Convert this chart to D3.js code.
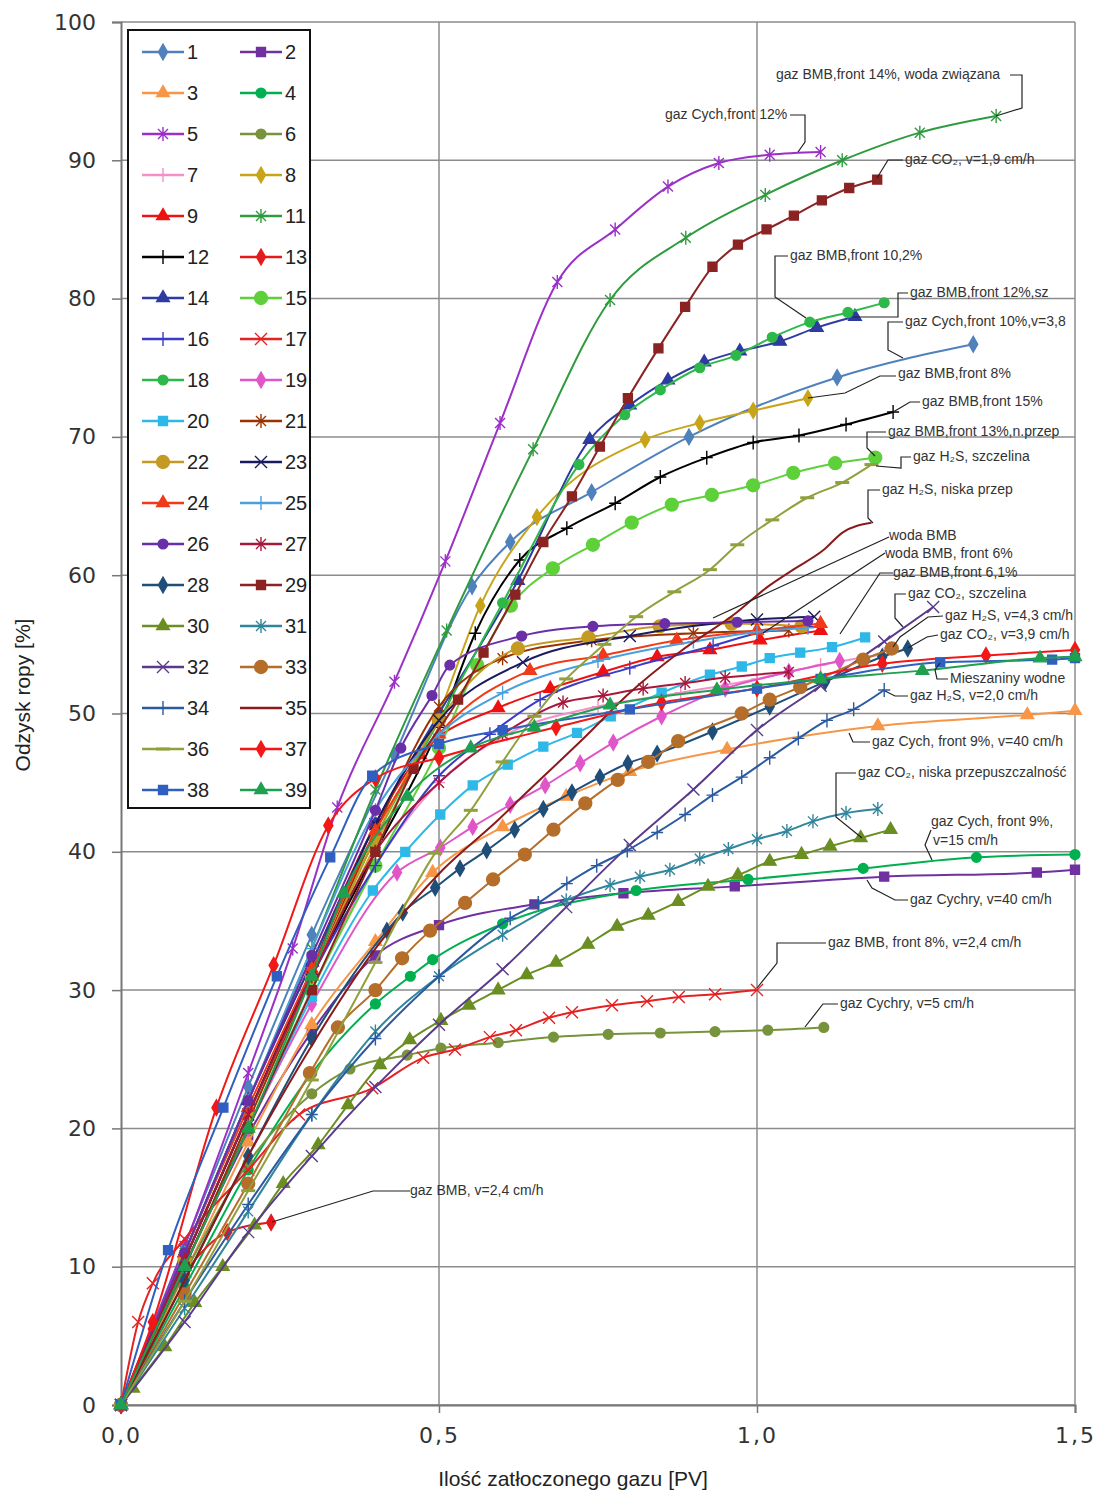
<!DOCTYPE html>
<html lang="pl">
<head>
<meta charset="UTF-8">
<title>Odzysk ropy</title>
<script src="https://d3js.org/d3.v7.min.js"></script>
<style>
  body { margin: 0; background: #fff; }
  svg text { font-family: "Liberation Sans", Arial, sans-serif; }
</style>
</head>
<body>
<script>
// --- data: [PV, recovery %] for every test ---
var s1 = [[0,0],[0.1,11.5],[0.2,23],[0.3,34],[0.43,47],[0.552,59.2],[0.612,62.4],[0.74,66],[0.893,70],[1.126,74.3],[1.34,76.7]];
var s2 = [[0,0],[0.1,10],[0.2,19.5],[0.3,27],[0.4,32.5],[0.5,34.7],[0.65,36.2],[0.79,37],[0.965,37.5],[1.2,38.2],[1.44,38.5],[1.5,38.7]];
var s3 = [[0,0],[0.1,9.5],[0.2,19],[0.3,27.5],[0.4,33.5],[0.49,38.5],[0.6,41.8],[0.7,44],[0.8,45.8],[0.953,47.4],[1.19,49.1],[1.425,49.9],[1.5,50.2]];
var s4 = [[0,0],[0.1,8.5],[0.2,17],[0.3,24],[0.4,29],[0.455,31],[0.49,32.2],[0.6,34.8],[0.81,37.2],[0.986,38],[1.167,38.8],[1.345,39.6],[1.5,39.8]];
var s5 = [[0,0],[0.1,11.5],[0.2,24],[0.27,33],[0.34,43.2],[0.43,52.3],[0.51,61],[0.596,71],[0.686,81.2],[0.777,85],[0.86,88.1],[0.94,89.8],[1.02,90.4],[1.1,90.6]];
var s6 = [[0,0],[0.1,9.5],[0.2,17.5],[0.3,22.5],[0.36,24.3],[0.45,25.3],[0.503,25.8],[0.593,26.2],[0.68,26.6],[0.766,26.8],[0.848,26.9],[0.934,27],[1.017,27.1],[1.105,27.3]];
var s7 = [[0,0],[0.1,10],[0.2,20],[0.3,30],[0.4,39],[0.5,45],[0.607,48.5],[0.75,50.5],[0.88,51.5],[1.0,52.5],[1.1,53.5],[1.2,54.3]];
var s8 = [[0,0],[0.1,10.5],[0.2,21],[0.3,31],[0.4,40.5],[0.5,50],[0.565,57.8],[0.654,64.2],[0.824,69.8],[0.91,71],[0.994,71.9],[1.08,72.8]];
var s9 = [[0,0],[0.1,11],[0.2,22],[0.3,32],[0.4,42],[0.47,47],[0.593,50.4],[0.675,51.8],[0.758,53],[0.843,54.1],[0.926,54.6],[1.005,55.3],[1.1,56]];
var s11 = [[0,0],[0.1,11],[0.2,22],[0.3,33],[0.4,44.5],[0.512,56],[0.648,69.1],[0.769,79.9],[0.888,84.4],[1.013,87.5],[1.134,90],[1.256,92],[1.376,93.2]];
var s12 = [[0,0],[0.1,10.5],[0.2,21],[0.3,31],[0.4,40],[0.5,49],[0.557,55.8],[0.627,61.1],[0.701,63.4],[0.777,65.2],[0.848,67.1],[0.921,68.5],[0.994,69.6],[1.066,70.1],[1.14,70.9],[1.214,71.8]];
var s13 = [[0,0],[0.05,5.5],[0.1,9.5],[0.167,12.5],[0.236,13.2]];
var s14 = [[0,0],[0.1,11],[0.2,22],[0.3,32],[0.4,42],[0.5,50],[0.624,59.6],[0.737,69.8],[0.8,72.3],[0.86,74.1],[0.917,75.4],[0.973,76.2],[1.036,76.9],[1.094,77.9],[1.154,78.7]];
var s15 = [[0,0],[0.1,10],[0.2,20],[0.3,30],[0.4,39],[0.5,47.5],[0.56,53.5],[0.613,57.8],[0.679,60.5],[0.742,62.2],[0.803,63.8],[0.866,65.1],[0.929,65.8],[0.994,66.5],[1.057,67.4],[1.123,68.1],[1.186,68.5]];
var s16 = [[0,0],[0.1,10.5],[0.2,21],[0.3,31],[0.4,39],[0.5,45.5],[0.58,48.5],[0.659,51],[0.8,53.3],[0.931,54.9],[1.0,55.8],[1.08,56.3]];
var s17 = [[0,0],[0.027,6],[0.05,8.8],[0.1,12],[0.2,17],[0.28,21],[0.395,22.9],[0.475,25.1],[0.525,25.7],[0.58,26.6],[0.621,27.1],[0.673,28],[0.709,28.4],[0.772,28.9],[0.827,29.2],[0.877,29.5],[0.934,29.7],[1.0,30]];
var s18 = [[0,0],[0.1,10.5],[0.2,21],[0.3,31],[0.4,41],[0.5,49.5],[0.6,58],[0.72,68],[0.792,71.6],[0.848,73.4],[0.91,75],[0.967,75.9],[1.024,77.2],[1.083,78.3],[1.143,79],[1.2,79.7]];
var s19 = [[0,0],[0.1,10],[0.2,20],[0.3,29],[0.434,38.5],[0.502,40.3],[0.553,41.8],[0.612,43.4],[0.667,44.8],[0.722,46.4],[0.774,47.9],[0.85,49.8],[0.95,51.8],[1.05,53],[1.13,53.8]];
var s20 = [[0,0],[0.1,10],[0.2,20],[0.3,29.5],[0.396,37.2],[0.447,40],[0.502,42.7],[0.553,44.8],[0.608,46.3],[0.664,47.6],[0.717,48.6],[0.77,49.8],[0.85,51.5],[0.926,52.8],[0.976,53.4],[1.02,54],[1.068,54.4],[1.118,54.8],[1.17,55.5]];
var s21 = [[0,0],[0.1,10],[0.2,20.5],[0.3,31],[0.4,41.5],[0.5,50.5],[0.6,54],[0.74,55.3],[0.9,55.8],[1.05,56]];
var s22 = [[0,0],[0.1,10.5],[0.2,21],[0.3,31],[0.4,41],[0.5,49.5],[0.624,54.7],[0.735,55.5],[0.847,56.3],[0.96,56.5],[1.07,56.3]];
var s23 = [[0,0],[0.1,10.5],[0.2,21],[0.3,31.5],[0.4,42],[0.5,49.5],[0.632,53.7],[0.8,55.6],[1.0,56.8],[1.09,57]];
var s24 = [[0,0],[0.1,11],[0.2,21.5],[0.3,31.5],[0.4,41.5],[0.5,48.5],[0.643,53.1],[0.758,54.2],[0.874,55.3],[1.0,56],[1.1,56.5]];
var s25 = [[0,0],[0.1,11],[0.2,22],[0.3,33],[0.4,43],[0.5,48.5],[0.6,51.5],[0.75,53.8],[0.9,55.2],[1.0,55.9],[1.08,56.2]];
var s26 = [[0,0],[0.1,11],[0.2,22],[0.3,32.5],[0.4,43],[0.44,47.5],[0.489,51.3],[0.517,53.5],[0.63,55.6],[0.742,56.3],[0.855,56.5],[0.969,56.6],[1.08,56.7]];
var s27 = [[0,0],[0.1,10.5],[0.2,21],[0.3,31],[0.4,40],[0.5,45],[0.6,48.5],[0.695,50.8],[0.758,51.3],[0.821,51.8],[0.887,52.2],[0.95,52.6],[1.05,53]];
var s28 = [[0,0],[0.1,9],[0.2,18],[0.3,26.5],[0.418,34.3],[0.443,35.6],[0.494,37.4],[0.533,38.8],[0.575,40.1],[0.619,41.6],[0.664,43.1],[0.709,44.3],[0.753,45.4],[0.797,46.4],[0.843,47.1],[0.93,48.7],[1.02,50.5],[1.107,52.3],[1.197,54.1],[1.237,54.7]];
var s29 = [[0,0],[0.1,10],[0.2,20],[0.3,30],[0.4,40],[0.46,46],[0.53,51],[0.57,54.4],[0.62,58.6],[0.664,62.4],[0.709,65.7],[0.753,69.3],[0.797,72.8],[0.845,76.4],[0.887,79.4],[0.93,82.3],[0.97,83.9],[1.015,85],[1.058,86],[1.102,87.1],[1.145,88],[1.189,88.6]];
var s30 = [[0,0],[0.019,1.2],[0.069,4.2],[0.116,7.4],[0.16,10],[0.21,13],[0.255,16],[0.31,18.8],[0.357,21.7],[0.407,24.6],[0.454,26.4],[0.503,27.8],[0.547,28.9],[0.593,30],[0.638,31.1],[0.684,32],[0.734,33.3],[0.78,34.6],[0.829,35.4],[0.876,36.4],[0.923,37.5],[0.97,38.3],[1.02,39.3],[1.07,39.8],[1.115,40.4],[1.163,41],[1.21,41.6]];
var s31 = [[0,0],[0.1,7],[0.2,14],[0.3,21],[0.4,27],[0.5,31],[0.6,34],[0.7,36.5],[0.769,37.6],[0.816,38.2],[0.863,38.7],[0.91,39.5],[0.955,40.2],[1.0,40.9],[1.047,41.5],[1.088,42.2],[1.14,42.8],[1.19,43.1]];
var s32 = [[0,0],[0.1,6],[0.2,12.5],[0.3,18],[0.4,23],[0.5,27.5],[0.6,31.5],[0.7,36],[0.8,40.5],[0.9,44.5],[1.0,48.8],[1.1,52],[1.2,55.2],[1.277,57.7]];
var s33 = [[0,0],[0.1,8],[0.2,16],[0.297,24],[0.341,27.3],[0.4,30],[0.442,32.3],[0.486,34.3],[0.541,36.3],[0.585,38],[0.635,39.8],[0.68,41.6],[0.73,43.5],[0.781,45.2],[0.829,46.5],[0.876,48],[0.976,50],[1.02,51],[1.068,51.9],[1.167,53.9],[1.212,54.7]];
var s34 = [[0,0],[0.1,7.5],[0.2,14.5],[0.3,21],[0.4,26.5],[0.5,31],[0.612,35.2],[0.656,36.3],[0.701,37.7],[0.748,39],[0.796,40.1],[0.843,41.4],[0.887,42.7],[0.93,44.1],[0.976,45.4],[1.02,46.8],[1.065,48.2],[1.11,49.5],[1.152,50.3],[1.2,51.7]];
var s35 = [[0,0],[0.1,9],[0.2,18],[0.3,26],[0.4,33],[0.506,38.7],[0.593,42.3],[0.638,44.3],[0.725,48.1],[0.8,51.5],[0.88,54.5],[0.968,57.3],[1.015,59.1],[1.057,60.4],[1.104,61.8],[1.135,63.1],[1.18,63.8]];
var s36 = [[0,0],[0.1,7.5],[0.2,15.5],[0.3,23.5],[0.4,32],[0.494,39.9],[0.55,43],[0.6,46.5],[0.65,49.8],[0.7,52.5],[0.76,55],[0.81,57],[0.87,58.8],[0.926,60.4],[0.969,62.2],[1.024,64],[1.079,65.6],[1.134,66.7],[1.18,68]];
var s37 = [[0,0],[0.05,6],[0.15,21.5],[0.24,31.8],[0.326,41.9],[0.4,45.3],[0.5,46.8],[0.684,49],[0.85,50.8],[1.0,51.8],[1.197,53.6],[1.36,54.2],[1.5,54.6]];
var s38 = [[0,0],[0.074,11.2],[0.161,21.5],[0.245,31],[0.329,39.6],[0.395,45.5],[0.5,47.8],[0.6,48.8],[0.8,50.3],[1.0,51.8],[1.1,52.5],[1.288,53.7],[1.464,53.9],[1.5,54]];
var s39 = [[0,0],[0.1,10],[0.2,20],[0.3,31],[0.35,37],[0.45,44],[0.55,47.5],[0.65,49],[0.769,50.6],[0.937,51.7],[1.1,52.5],[1.26,53.1],[1.445,54],[1.5,54.1]];

var seriesNames = ["1","2","3","4","5","6","7","8","9","11","12","13","14","15","16","17","18","19","20",
                   "21","22","23","24","25","26","27","28","29","30","31","32","33","34","35","36","37","38","39"];
var seriesData = [s1,s2,s3,s4,s5,s6,s7,s8,s9,s11,s12,s13,s14,s15,s16,s17,s18,s19,s20,
                  s21,s22,s23,s24,s25,s26,s27,s28,s29,s30,s31,s32,s33,s34,s35,s36,s37,s38,s39];
var seriesColors = ["#4F81BD","#7030A0","#F79646","#00B050","#9B30C8","#77933C","#F58FC8","#C8A418","#EE1111",
                    "#2E9B3E","#000000","#E41A1C","#2E3BA0","#5ED03A","#3B3BC8","#E52222","#2EB84A","#E056C8","#2DB8E8",
                    "#993300","#C49A22","#1A1A5E","#F03A1A","#4A9FDD","#6A2FA8","#A8183C","#1F4E79","#8B2323","#6B8E23",
                    "#31859C","#5A3A8C","#B56E2A","#2B5AA0","#8B1A1A","#8FA03C","#F21818","#2F5FC0","#1FA050"];
var seriesMarkers = ["diamond","square","triangle","circle","asterisk","circle","plus","diamond","triangle",
                     "asterisk","plus","diamond","triangle","bigcircle","plus","cross","circle","diamond","square",
                     "asterisk","bigcircle","cross","triangle","plus","circle","asterisk","diamond","square","triangle",
                     "asterisk","cross","bigcircle","plus","none","dash","diamond","square","triangle"];

var yTicks = [0,10,20,30,40,50,60,70,80,90,100];
var xTicks = [0,0.5,1.0,1.5];
var xTickLabels = ["0,0","0,5","1,0","1,5"];

// callouts, pixel layout: label position + leader polyline
var callouts = [
  {t:"gaz BMB,front 14%, woda związana", x:776, y:79, p:[[1010,75],[1022,75],[1022,108],[996,116]]},
  {t:"gaz Cych,front 12%", x:665, y:119, p:[[790,115],[805,115],[805,142],[798,152]]},
  {t:"gaz CO₂, v=1,9 cm/h", x:905, y:164, p:[[903,160],[888,160],[877,178]]},
  {t:"gaz BMB,front 10,2%", x:790, y:260, p:[[788,256],[775,256],[775,297],[806,318]]},
  {t:"gaz BMB,front 12%,sz", x:910, y:297, p:[[908,293],[898,293],[898,317],[853,317]]},
  {t:"gaz Cych,front 10%,v=3,8", x:905, y:326, p:[[903,322],[888,322],[888,350],[903,358]]},
  {t:"gaz BMB,front 8%", x:898, y:378, p:[[896,376],[880,376],[845,393],[808,398]]},
  {t:"gaz BMB,front 15%", x:922, y:406, p:[[920,402],[910,402],[900,408],[893,412]]},
  {t:"gaz BMB,front 13%,n.przep", x:888, y:436, p:[[886,432],[867,432],[867,448],[875,456]]},
  {t:"gaz H₂S, szczelina", x:913, y:461, p:[[911,457],[901,457],[901,468],[876,466]]},
  {t:"gaz H₂S, niska przep", x:882, y:494, p:[[880,490],[868,490],[868,518],[873,523]]},
  {t:"woda BMB", x:889, y:540, p:[[889,537],[713,618]]},
  {t:"woda BMB, front 6%", x:885, y:558, p:[[885,553],[763,633]]},
  {t:"gaz BMB,front 6,1%", x:893, y:577, p:[[893,573],[880,573],[840,634]]},
  {t:"gaz CO₂, szczelina", x:908, y:598, p:[[906,594],[895,594],[895,618],[903,627]]},
  {t:"gaz H₂S, v=4,3 cm/h", x:945, y:620, p:[[943,616],[928,617],[900,637],[893,647]]},
  {t:"gaz CO₂, v=3,9 cm/h", x:940, y:639, p:[[938,635],[927,637],[913,645],[908,648]]},
  {t:"Mieszaniny wodne", x:950, y:683, p:[[948,679],[937,679],[935,670],[940,663]]},
  {t:"gaz H₂S, v=2,0 cm/h", x:910, y:700, p:[[908,696],[895,696],[885,691]]},
  {t:"gaz Cych, front 9%, v=40 cm/h", x:872, y:746, p:[[870,742],[853,742],[849,733]]},
  {t:"gaz CO₂, niska przepuszczalność", x:858, y:777, p:[[856,773],[836,773],[836,817],[862,838]]},
  {t:"gaz Cych, front 9%,", x:931, y:826, p:[[931,830],[925,845],[932,860]]},
  {t:"v=15 cm/h", x:933, y:845, p:[]},
  {t:"gaz Cychry, v=40 cm/h", x:910, y:904, p:[[908,900],[895,900],[872,888],[867,880]]},
  {t:"gaz BMB, front 8%, v=2,4 cm/h", x:828, y:947, p:[[826,943],[777,943],[777,963],[757,988]]},
  {t:"gaz Cychry, v=5 cm/h", x:840, y:1008, p:[[838,1004],[823,1004],[805,1027]]},
  {t:"gaz BMB, v=2,4 cm/h", x:410, y:1195, p:[[410,1191],[373,1191],[272,1222]]}
];

var W = 1095, H = 1495;
var svg = d3.select("body").append("svg").attr("width", W).attr("height", H);

var x = d3.scaleLinear().domain([0, 1.5]).range([121, 1075]);
var y = d3.scaleLinear().domain([0, 100]).range([1405, 22]);

// grid
svg.append("g").selectAll("line").data(yTicks).enter().append("line")
  .attr("x1", x(0)).attr("x2", x(1.5))
  .attr("y1", function (d) { return y(d); }).attr("y2", function (d) { return y(d); })
  .attr("stroke", "#8c8c8c").attr("stroke-width", 1.5);
svg.append("g").selectAll("line").data(xTicks.slice(1)).enter().append("line")
  .attr("x1", function (d) { return x(d); }).attr("x2", function (d) { return x(d); })
  .attr("y1", y(0)).attr("y2", y(100))
  .attr("stroke", "#8c8c8c").attr("stroke-width", 1.5);

// axes
var yAxis = svg.append("g").attr("transform", "translate(" + x(0) + ",0)")
  .call(d3.axisLeft(y).tickValues(yTicks).tickSize(9).tickPadding(16));
var xAxis = svg.append("g").attr("transform", "translate(0," + y(0) + ")")
  .call(d3.axisBottom(x).tickValues(xTicks).tickSize(8).tickPadding(14)
    .tickFormat(function (d, i) { return xTickLabels[i]; }));
[yAxis, xAxis].forEach(function (a) {
  a.select(".domain").attr("stroke", "#777").attr("stroke-width", 2);
  a.selectAll(".tick line").attr("stroke", "#777").attr("stroke-width", 1.5);
  a.selectAll(".tick text").attr("fill", "#333").attr("font-size", 22)
    .style("font-family", "'DejaVu Sans', Verdana, sans-serif");
});
xAxis.selectAll(".tick text").attr("letter-spacing", 2);

svg.append("text").attr("x", 573).attr("y", 1486).attr("text-anchor", "middle")
  .attr("font-size", 21).attr("fill", "#222").text("Ilość zatłoczonego gazu [PV]");
svg.append("text").attr("transform", "translate(30,695) rotate(-90)").attr("text-anchor", "middle")
  .attr("font-size", 21).attr("fill", "#222").text("Odzysk ropy [%]");

// markers
function markerPath(kind) {
  if (kind === "diamond") return d3.symbol().type(d3.symbolDiamond).size(70)();
  if (kind === "square") return d3.symbol().type(d3.symbolSquare).size(80)();
  if (kind === "triangle") return d3.symbol().type(d3.symbolTriangle).size(70)();
  if (kind === "circle") return d3.symbol().type(d3.symbolCircle).size(75)();
  if (kind === "bigcircle") return d3.symbol().type(d3.symbolCircle).size(130)();
  if (kind === "asterisk") return "M-5,-5L5,5M-5,5L5,-5M0,-7L0,7";
  if (kind === "plus") return "M-6,0H6M0,-7V7";
  if (kind === "cross") return "M-6,-6L6,6M-6,6L6,-6";
  if (kind === "dash") return "M-7,0H7";
  return null;
}
function isFilled(kind) {
  return ["diamond", "square", "triangle", "circle", "bigcircle"].indexOf(kind) >= 0;
}
function drawMarker(sel, kind, color) {
  var p = markerPath(kind);
  if (!p) return;
  sel.attr("d", p)
    .attr("fill", isFilled(kind) ? color : "none")
    .attr("stroke", color)
    .attr("stroke-width", kind === "dash" ? 3 : 1.4);
}

var line = d3.line()
  .x(function (d) { return x(d[0]); })
  .y(function (d) { return y(d[1]); })
  .curve(d3.curveMonotoneX);

var plot = svg.append("g");
seriesData.forEach(function (data, i) {
  var g = plot.append("g");
  g.append("path").datum(data).attr("d", line)
    .attr("fill", "none").attr("stroke", seriesColors[i]).attr("stroke-width", 2);
  g.selectAll("path.m").data(data).enter().append("path").attr("class", "m")
    .attr("transform", function (d) { return "translate(" + x(d[0]) + "," + y(d[1]) + ")"; })
    .call(drawMarker, seriesMarkers[i], seriesColors[i]);
});

// callouts
var ann = svg.append("g");
callouts.forEach(function (c) {
  if (c.p.length) {
    ann.append("path").attr("d", d3.line()(c.p))
      .attr("fill", "none").attr("stroke", "#222").attr("stroke-width", 1.2);
  }
  ann.append("text").attr("x", c.x).attr("y", c.y).attr("font-size", 14)
    .attr("fill", "#333").text(c.t);
});

// legend
var lg = svg.append("g");
lg.append("rect").attr("x", 128).attr("y", 30).attr("width", 182).attr("height", 778)
  .attr("fill", "#fff").attr("stroke", "#111").attr("stroke-width", 2);
seriesNames.forEach(function (name, i) {
  var col = i % 2, row = Math.floor(i / 2);
  var lx = col === 0 ? 142 : 240, ly = 52 + row * 41;
  lg.append("line").attr("x1", lx).attr("x2", lx + 42).attr("y1", ly).attr("y2", ly)
    .attr("stroke", seriesColors[i]).attr("stroke-width", 2.5);
  lg.append("path").attr("transform", "translate(" + (lx + 21) + "," + ly + ")")
    .call(drawMarker, seriesMarkers[i], seriesColors[i]);
  lg.append("text").attr("x", lx + 45).attr("y", ly + 7).attr("font-size", 20)
    .attr("fill", "#222").text(name);
});
</script>
</body>
</html>
